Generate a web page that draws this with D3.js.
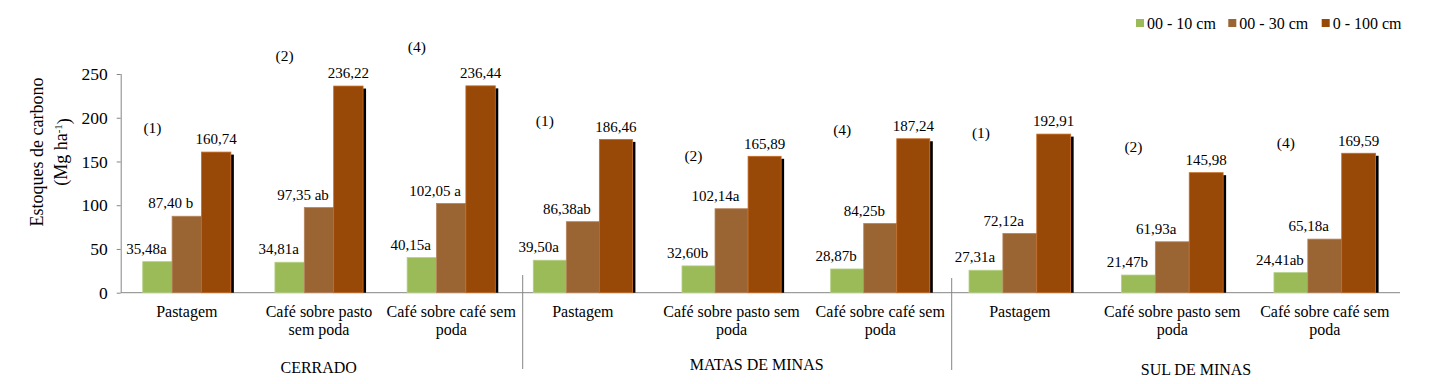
<!DOCTYPE html>
<html>
<head>
<meta charset="utf-8">
<script src="https://cdn.jsdelivr.net/npm/d3@7"></script>
<style>
  html, body { margin: 0; padding: 0; background: #fff; }
  svg { display: block; font-family: "Liberation Serif", "Times New Roman", serif; }
  svg text { font-family: "Liberation Serif", "Times New Roman", serif; }
</style>
</head>
<body>
<svg id="chart" width="1436" height="384"></svg>
<script>
// ---------- data ----------
const regions = ["CERRADO", "MATAS DE MINAS", "SUL DE MINAS"];
const categories = ["Pastagem", "Café sobre pasto sem poda", "Café sobre café sem poda"];
const seriesNames = ["00 - 10 cm", "00 - 30 cm", "0 - 100 cm"];
const values10 = [35.48, 34.81, 40.15, 39.50, 32.60, 28.87, 27.31, 21.47, 24.41];
const values30 = [87.40, 97.35, 102.05, 86.38, 102.14, 84.25, 72.12, 61.93, 65.18];
const values100 = [160.74, 236.22, 236.44, 186.46, 165.89, 187.24, 192.91, 145.98, 169.59];
const letters10 = ["a", "a", "a", "a", "b", "b", "a", "b", "ab"];
const letters30 = [" b", " ab", " a", "ab", "a", "b", "a", "a", "a"];
const letters100 = ["", "", "", "", "", "", "", "", ""];
const markers = ["(1)", "(2)", "(4)", "(1)", "(2)", "(4)", "(1)", "(2)", "(4)"];
const markerLevels = [189, 271, 281, 209, 167, 199, 195, 178, 182];
const yTicks = [0, 50, 100, 150, 200, 250];
const regionMax = [250, 266, 266];

// ---------- layout ----------
const FONT = '"Liberation Serif", "Times New Roman", serif';
const colors = ["#9BBB59", "#9A6433", "#984807"];
const strokes = ["#B5CF85", "#B7845A", "#C46A25"];
const yTop = 74, yBase = 292.7;
const axisLeft = 120.7, axisRight = 1400;
const regionRanges = [[120.7, 517.3], [508.5, 954.6], [943.6, 1401]];
const regionLabelPos = [[318.7, 367.5], [756.7, 364.5], [1196, 369.5]];
const separators = [[522.7, 275, 369], [951.7, 278, 370]];
const labelShift = [-11, -16, 0];

const fmt = v => d3.format(".2f")(v).replace(".", ",");
const svg = d3.select("#chart");

const seriesVals = [values10, values30, values100];
const seriesLetters = [letters10, letters30, letters100];

const yScales = regionMax.map(m => d3.scaleLinear().domain([0, m]).range([yBase, yTop]));

const yAxis = d3.axisLeft(yScales[0]).tickValues(yTicks).tickSize(4).tickPadding(9).tickFormat(d3.format("d"));
const gy = svg.append("g").attr("transform", `translate(${axisLeft},0)`).call(yAxis)
  .attr("font-family", FONT);
gy.select(".domain").attr("stroke", "#868686").attr("d", `M0.5,${yBase}V${yTop}`);
gy.selectAll(".tick line").attr("stroke", "#868686");
gy.selectAll(".tick text").attr("fill", "#000").style("font-size", "17.5px");

svg.append("line").attr("x1", axisLeft).attr("x2", axisRight)
  .attr("y1", yBase).attr("y2", yBase).attr("stroke", "#868686");

const yt = svg.append("text").attr("transform", "translate(37,152) rotate(-90)")
  .attr("text-anchor", "middle").style("font-size", "18px").attr("fill", "#000");
yt.append("tspan").attr("x", 0).attr("dy", "0.35em").text("Estoques de carbono");
const yt2 = svg.append("text").attr("transform", "translate(61,152) rotate(-90)")
  .attr("text-anchor", "middle").style("font-size", "18px").attr("fill", "#000");
yt2.append("tspan").attr("dy", "0.35em").text("(Mg ha");
yt2.append("tspan").attr("dy", "-0.45em").style("font-size", "11px").text("-1");
yt2.append("tspan").attr("dy", "0.45em").text(")");

function wrap(textSel, width) {
  textSel.each(function () {
    const t = d3.select(this);
    const words = t.text().split(" ");
    const x = t.attr("x");
    t.text(null);
    let line = [];
    let tspan = t.append("tspan").attr("x", x).attr("dy", 0);
    words.forEach(w => {
      line.push(w);
      tspan.text(line.join(" "));
      if (tspan.node().getComputedTextLength() > width && line.length > 1) {
        line.pop();
        tspan.text(line.join(" "));
        line = [w];
        tspan = t.append("tspan").attr("x", x).attr("dy", "1.15em").text(w);
      }
    });
  });
}

regions.forEach((region, r) => {
  const x0 = d3.scaleBand().domain(categories).range(regionRanges[r])
    .paddingInner(1 / 3).paddingOuter(1 / 6);
  const x1 = d3.scaleBand().domain(seriesNames).range([0, x0.bandwidth()]);
  const y = yScales[r];
  const g = svg.append("g");

  categories.forEach((cat, c) => {
    const i = r * 3 + c;
    const gx = x0(cat);
    seriesNames.forEach((s, k) => {
      const v = seriesVals[k][i];
      const bx = gx + x1(s);
      const bw = x1.bandwidth();
      const top = y(v);
      if (k === 2) {
        g.append("rect").attr("x", bx + bw).attr("y", top + 2.5)
          .attr("width", 3).attr("height", yBase - top - 2.5).attr("fill", "#000");
      }
      g.append("rect").attr("x", bx).attr("y", top).attr("width", bw)
        .attr("height", yBase - top).attr("fill", colors[k])
        .attr("stroke", strokes[k]).attr("stroke-width", 0.8);
      g.append("text").attr("x", bx + bw / 2 + labelShift[k]).attr("y", top - 13)
        .attr("dy", "0.35em").attr("text-anchor", "middle")
        .style("font-size", "15px").attr("fill", "#000")
        .text(fmt(v) + seriesLetters[k][i]);
    });
    g.append("text").attr("x", gx + x1.bandwidth() / 2 - 5).attr("y", y(markerLevels[i]))
      .attr("dy", "0.35em").attr("text-anchor", "middle")
      .style("font-size", "15.5px").attr("fill", "#000").text(markers[i]);
    const ct = g.append("text").attr("x", gx + x0.bandwidth() / 2).attr("y", 317)
      .attr("text-anchor", "middle").style("font-size", "16px").attr("fill", "#000")
      .style("font-family", FONT).text(cat);
    wrap(ct, x0.step());
  });

  svg.append("text").attr("x", regionLabelPos[r][0]).attr("y", regionLabelPos[r][1])
    .attr("dy", "0.35em").attr("text-anchor", "middle")
    .style("font-size", "16px").attr("fill", "#000").text(region);
});

separators.forEach(s => {
  svg.append("line").attr("x1", s[0]).attr("x2", s[0]).attr("y1", s[1]).attr("y2", s[2])
    .attr("stroke", "#868686");
});

const legendX = [1136, 1228.3, 1321.7];
const lg = svg.append("g");
seriesNames.forEach((s, k) => {
  lg.append("rect").attr("x", legendX[k]).attr("y", 19).attr("width", 8).attr("height", 8)
    .attr("fill", colors[k]);
  lg.append("text").attr("x", legendX[k] + 11).attr("y", 23).attr("dy", "0.35em")
    .style("font-size", "16px").attr("fill", "#000").text(s);
});

svg.selectAll("text").style("font-family", FONT);
</script>
</body>
</html>
